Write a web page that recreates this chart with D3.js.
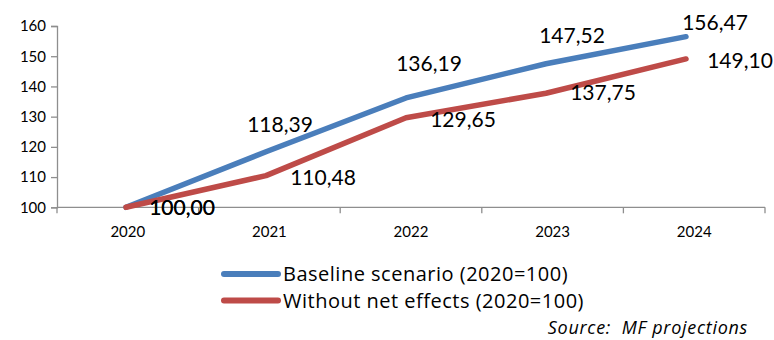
<!DOCTYPE html>
<html>
<head>
<meta charset="utf-8">
<script src="https://cdn.jsdelivr.net/npm/d3@7/dist/d3.min.js"></script>
<style>
  html, body { margin: 0; padding: 0; background: #fff; }
  svg { display: block; font-family: Lato, "Open Sans", sans-serif; }
</style>
</head>
<body>
<svg id="chart" width="774" height="340"></svg>
<script>
// Index of output, 2020 = 100
const years = ["2020", "2021", "2022", "2023", "2024"];
const baseline = [100.00, 118.39, 136.19, 147.52, 156.47];
const withoutNetEffects = [100.00, 110.48, 129.65, 137.75, 149.10];
const yTicks = [100, 110, 120, 130, 140, 150, 160];
const seriesNames = ["Baseline scenario (2020=100)", "Without net effects (2020=100)"];
const seriesColors = ["#4A7EBB", "#BE4B48"];
const sourceNote = "Source:  MF projections";

// Value label placement (offset of label centre/baseline from its point)
const labelOffsets = [
  [[56, 8], [14, -20], [23, -27], [26, -21], [29, -7]],
  [[56, 8], [57, 9], [57, 9], [57, 7], [54, 9]]
];

const svg = d3.select("#chart");
const axisColor = "#8e8e8e";

const xBand = d3.scaleBand().domain(years).range([57, 765]);
const xPoint = d3.scalePoint().domain(years).range([126, 686]);
const y = d3.scaleLinear().domain([100, 160]).range([207.3, 26]);

// Y axis
const yAxis = svg.append("g")
  .attr("transform", "translate(57,0)")
  .call(d3.axisLeft(y).tickValues(yTicks).tickSize(6).tickPadding(5).tickFormat(d3.format("d")));
yAxis.select(".domain").attr("stroke", axisColor).attr("stroke-width", 1.3);
yAxis.selectAll(".tick line").attr("stroke", axisColor).attr("stroke-width", 1.3);
yAxis.selectAll(".tick text").attr("fill", "#000").attr("font-size", 15).attr("font-family", "Lato");

// X axis: ticks at category boundaries, labels centred in each category
const xg = svg.append("g").attr("transform", `translate(0,${y(100)})`);
xg.append("line").attr("x1", xBand.range()[0]).attr("x2", xBand.range()[1])
  .attr("stroke", axisColor).attr("stroke-width", 1.3);
const bounds = years.map(d => xBand(d)).concat([xBand.range()[1]]);
xg.selectAll("line.tk").data(bounds).join("line").attr("class", "tk")
  .attr("x1", d => d).attr("x2", d => d).attr("y1", 0).attr("y2", 6)
  .attr("stroke", axisColor).attr("stroke-width", 1.3);
xg.selectAll("text").data(years).join("text")
  .attr("x", d => xBand(d) + xBand.bandwidth() / 2)
  .attr("y", 30)
  .attr("text-anchor", "middle")
  .attr("font-size", 15)
  .text(d => d);

// Lines
const allSeries = [baseline, withoutNetEffects];
const line = d3.line().x((d, i) => xPoint(years[i])).y(d => y(d));
allSeries.forEach((vals, s) => {
  svg.append("path")
    .datum(vals)
    .attr("d", line)
    .attr("fill", "none")
    .attr("stroke", seriesColors[s])
    .attr("stroke-width", 5.5)
    .attr("stroke-linejoin", "round")
    .attr("stroke-linecap", "round");
});

// Value labels
const fmt = v => d3.format(".2f")(v).replace(".", ",");
allSeries.forEach((vals, s) => {
  svg.append("g").selectAll("text").data(vals).join("text")
    .attr("x", (d, i) => xPoint(years[i]) + labelOffsets[s][i][0])
    .attr("y", (d, i) => y(d) + labelOffsets[s][i][1])
    .attr("text-anchor", "middle")
    .attr("font-size", 21)
    .attr("fill", "#000")
    .text(d => fmt(d));
});

// Legend
const legend = svg.append("g");
seriesNames.forEach((name, s) => {
  const ly = 274 + s * 26.5;
  legend.append("line")
    .attr("x1", 224).attr("x2", 278).attr("y1", ly).attr("y2", ly)
    .attr("stroke", seriesColors[s]).attr("stroke-width", 6)
    .attr("stroke-linecap", "round");
  legend.append("text")
    .attr("x", 283).attr("y", ly + 7)
    .attr("font-family", "'Open Sans'")
    .attr("font-size", 20)
    .attr("letter-spacing", 0.5)
    .text(name);
});

// Source note
svg.append("text")
  .attr("x", 748).attr("y", 334)
  .attr("text-anchor", "end")
  .attr("font-family", "'Open Sans'")
  .attr("font-size", 18)
  .attr("letter-spacing", 0.7)
  .attr("font-style", "italic")
  .attr("xml:space", "preserve")
  .style("white-space", "pre")
  .text(sourceNote);
</script>
</body>
</html>
